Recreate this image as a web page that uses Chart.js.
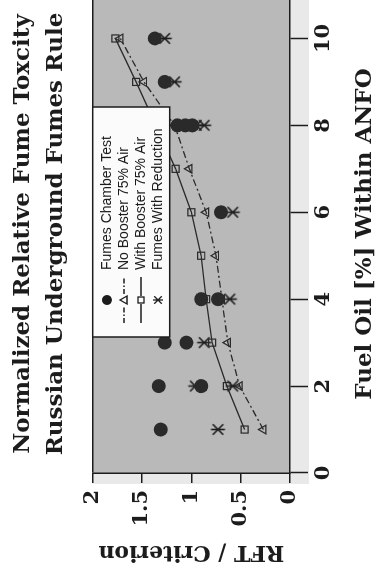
<!DOCTYPE html>
<html>
<head>
<meta charset="utf-8">
<title>Relative Fume Toxicity</title>
<script src="https://cdn.jsdelivr.net/npm/chart.js@4.4.1/dist/chart.umd.min.js"></script>
<style>
  html, body { margin: 0; padding: 0; background: #fff; overflow: hidden; width: 384px; height: 581px; }
  /* the figure is laid out landscape and turned a quarter turn counter-clockwise */
  #turn { position: absolute; left: 0; top: 581px; width: 594px; height: 384px;
          transform-origin: 0 0; transform: rotate(-90deg); }
</style>
</head>
<body>
<div id="turn"><canvas id="fume" width="594" height="384"></canvas></div>
<script>
/* ── data: fuel oil [%] vs. RFT / criterion ─────────────── */
const fuelTicks = [0, 2, 4, 6, 8, 10];
const rftTicks  = [0, 0.5, 1, 1.5, 2];

const chamberFuel = [1, 2, 2, 3, 3, 4, 4, 6, 8, 8, 8, 9, 10];
const chamberRft  = [1.31, 1.33, 0.90, 1.27, 1.05, 0.90, 0.73, 0.70, 1.14, 1.06, 0.99, 1.27, 1.37];

const noBoosterFuel = [1, 2, 3, 4, 5, 6, 7, 8, 9, 10];
const noBoosterRft  = [0.27, 0.51, 0.63, 0.69, 0.75, 0.85, 1.02, 1.17, 1.48, 1.72];

const withBoosterFuel = [1, 2, 3, 4, 5, 6, 7, 8, 9, 10];
const withBoosterRft  = [0.46, 0.64, 0.79, 0.85, 0.90, 1.00, 1.16, 1.36, 1.56, 1.77];

const reductionFuel = [1, 2, 2, 3, 4, 6, 8, 8, 9, 10];
const reductionRft  = [0.73, 0.96, 0.58, 0.87, 0.61, 0.58, 0.95, 0.87, 1.17, 1.27];

const pairs = (xs, ys) => xs.map((x, i) => ({ x, y: ys[i] }));

const INK   = '#1c1c1c';
const SERIF = "'DejaVu Serif', serif";

// small offscreen glyphs (asterisk marker + legend samples)
function glyph(w, h, paint) {
  const c = document.createElement('canvas');
  c.width = w; c.height = h;
  const g = c.getContext('2d');
  g.strokeStyle = INK; g.fillStyle = INK; g.lineWidth = 1.3;
  paint(g, w, h);
  return c;
}

function asterisk(g, cx, cy, r) {
  const d = r * 0.75;
  g.beginPath();
  g.moveTo(cx, cy - r);     g.lineTo(cx, cy + r);
  g.moveTo(cx - d, cy - d); g.lineTo(cx + d, cy + d);
  g.moveTo(cx + d, cy - d); g.lineTo(cx - d, cy + d);
  g.stroke();
}

const starMark = glyph(17, 17, g => { g.lineWidth = 1.6; asterisk(g, 8.5, 8.5, 7); });

const legendSamples = [
  glyph(46, 14, g => { g.beginPath(); g.arc(23, 7, 5, 0, Math.PI * 2); g.fill(); }),
  glyph(46, 14, g => {
    g.setLineDash([5, 2, 1.5, 2]);
    g.beginPath(); g.moveTo(0, 7); g.lineTo(17, 7); g.moveTo(29, 7); g.lineTo(46, 7); g.stroke();
    g.setLineDash([]);
    g.beginPath(); g.moveTo(23, 3); g.lineTo(27, 10); g.lineTo(19, 10); g.closePath(); g.stroke();
  }),
  glyph(46, 14, g => {
    g.beginPath(); g.moveTo(0, 7); g.lineTo(19, 7); g.moveTo(27, 7); g.lineTo(46, 7); g.stroke();
    g.strokeRect(20, 4, 6, 6);
  }),
  glyph(46, 14, g => asterisk(g, 23, 7, 5)),
];

// gray plot field, legend frame drawn above the data
const paper = {
  id: 'paper',
  afterLayout(chart) {
    const lg = chart.legend;
    lg.left = 255; lg.top = 97; lg.width = 215; lg.height = 76;
    lg.right = lg.left + lg.width; lg.bottom = lg.top + lg.height;
  },
  beforeDraw(chart) {
    const { ctx, chartArea: a } = chart;
    ctx.save();
    ctx.fillStyle = '#e9e9e9';
    ctx.fillRect(a.left - 11, a.top, a.width + 11, a.height + 19);
    ctx.fillStyle = '#b9b9b9';
    ctx.fillRect(a.left, a.top, a.width, a.height);
    ctx.restore();
  },
  afterDatasetsDraw(chart) {
    const { ctx, chartArea: a } = chart;
    ctx.save();
    ctx.fillStyle = '#fbfbfb';
    ctx.strokeStyle = INK;
    ctx.lineWidth = 1.5;
    ctx.fillRect(244, a.top, 230, 77);
    ctx.strokeRect(244, a.top, 230, 77);
    ctx.restore();
    chart.legend.draw();
  }
};

const axisFont  = { family: SERIF, size: 21, weight: 'bold' };
const titleFont = { family: SERIF, size: 23, weight: 'bold' };

new Chart(document.getElementById('fume'), {
  type: 'scatter',
  data: {
    datasets: [
      {
        label: 'Fumes Chamber Test',
        data: pairs(chamberFuel, chamberRft),
        pointStyle: 'circle', pointRadius: 7,
        backgroundColor: '#2a2a2a', borderColor: '#2a2a2a', borderWidth: 0,
      },
      {
        label: 'No Booster 75% Air',
        data: pairs(noBoosterFuel, noBoosterRft),
        showLine: true, borderDash: [7, 3, 2, 3], borderWidth: 1.3, tension: 0,
        pointStyle: 'triangle', pointRadius: 5, pointBorderWidth: 1.2,
        borderColor: '#2a2a2a', backgroundColor: 'rgba(0,0,0,0)',
      },
      {
        label: 'With Booster 75% Air',
        data: pairs(withBoosterFuel, withBoosterRft),
        showLine: true, borderWidth: 1.3, tension: 0,
        pointStyle: 'rect', pointRadius: 5, pointBorderWidth: 1.2,
        borderColor: '#2a2a2a', backgroundColor: 'rgba(0,0,0,0)',
      },
      {
        label: 'Fumes With Reduction',
        data: pairs(reductionFuel, reductionRft),
        pointStyle: starMark, pointRadius: 7,
        borderColor: '#2a2a2a', backgroundColor: '#2a2a2a',
      },
    ]
  },
  options: {
    responsive: false, animation: false, devicePixelRatio: 1,
    layout: { padding: 0 },
    plugins: {
      title: {
        display: true, fullSize: false,
        text: ['Normalized Relative Fume Toxcity', 'Russian Underground Fumes Rule'],
        color: INK, font: { ...titleFont, lineHeight: 1.45 },
        padding: { top: 6, bottom: 20 },
      },
      legend: {
        display: true, position: 'chartArea', align: 'start',
        labels: {
          usePointStyle: true, pointStyleWidth: 46, padding: 3,
          color: INK, font: { family: "'Liberation Sans', Arial, sans-serif", size: 14 },
          generateLabels: chart => chart.data.datasets.map((ds, i) => ({
            text: ds.label, pointStyle: legendSamples[i], fontColor: INK,
            lineWidth: 0, strokeStyle: 'rgba(0,0,0,0)', fillStyle: 'rgba(0,0,0,0)',
            hidden: false, datasetIndex: i,
          })),
        },
      },
      tooltip: { enabled: false },
    },
    scales: {
      x: {
        type: 'linear', position: 'bottom', min: 0, max: 11,
        afterBuildTicks: s => { s.ticks = fuelTicks.map(v => ({ value: v })); },
        afterFit: s => { s.height = 94; },
        grid: { drawOnChartArea: false, color: INK, tickColor: INK, tickLength: 18, tickWidth: 1.5 },
        border: { color: INK, width: 1.5 },
        ticks: { color: INK, font: axisFont, padding: 3, maxRotation: 0, autoSkip: false, callback: v => String(v) },
        title: { display: true, text: 'Fuel Oil [%] Within ANFO', color: INK, font: titleFont, padding: { top: 16, bottom: 5 } },
      },
      y: {
        type: 'linear', position: 'left', min: 0, max: 2,
        afterBuildTicks: s => { s.ticks = rftTicks.map(v => ({ value: v })); },
        afterFit: s => { s.width = 108; },
        grid: {
          color: c => (c.tick && c.tick.value === 2 ? INK : 'rgba(0,0,0,0)'),
          lineWidth: 1.5, tickColor: INK, tickLength: 10, tickWidth: 1.5,
        },
        border: { color: INK, width: 1.5 },
        ticks: { color: INK, font: axisFont, padding: 7, autoSkip: false, callback: v => String(v) },
        title: { display: true, text: 'RFT / Criterion', color: INK, font: { ...titleFont, size: 22 }, padding: { top: 16, bottom: 4 } },
      },
    },
  },
  plugins: [paper],
});
</script>
</body>
</html>
